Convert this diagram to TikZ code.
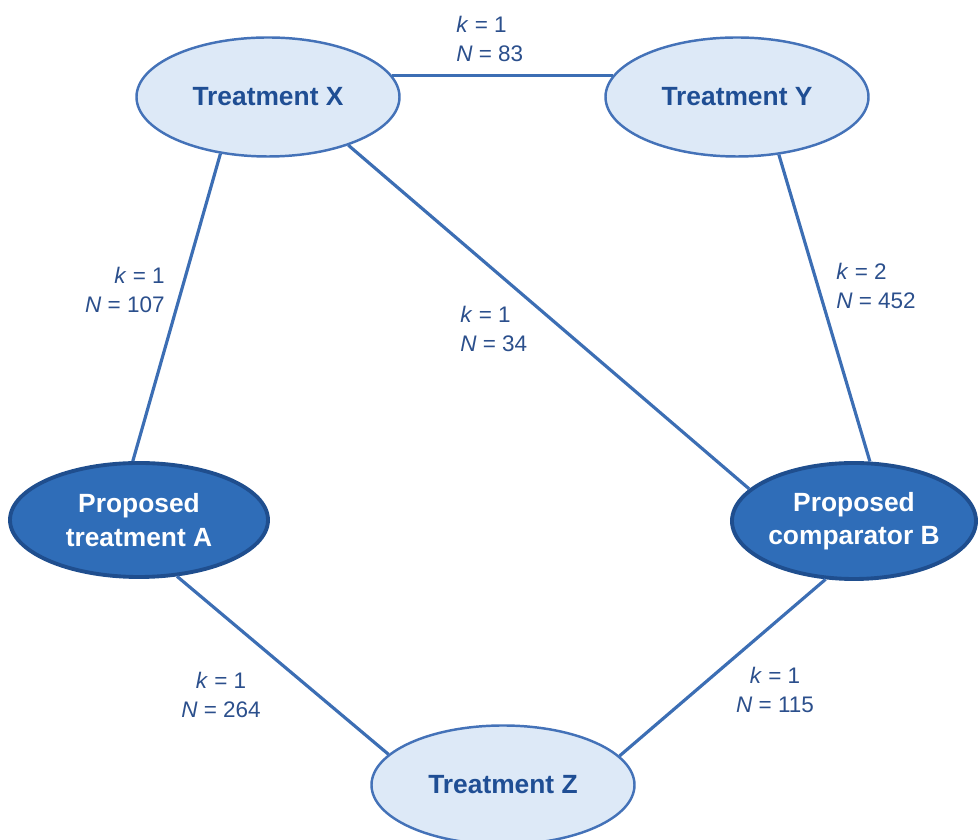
\documentclass[tikz,border=0pt]{standalone}
\usepackage{fontspec}
\setmainfont{Liberation Sans}
\usepackage{tikz}
\usetikzlibrary{shapes.geometric}
\definecolor{edgeblue}{HTML}{3C6EB4}
\definecolor{lightfill}{HTML}{DDE9F7}
\definecolor{lightline}{HTML}{4472B8}
\definecolor{darkfill}{HTML}{2F6DB8}
\definecolor{darkline}{HTML}{1F4E8E}
\definecolor{textblue}{HTML}{1F4E94}
\definecolor{labelblue}{HTML}{2B4F8C}
\tikzset{
  trt/.style={ellipse,draw=lightline,line width=1.4pt,fill=lightfill,text=textblue,
    inner sep=0pt,minimum width=5.26cm,minimum height=2.38cm,align=center,
    font=\bfseries\fontsize{15}{19}\selectfont},
  prop/.style={trt,draw=darkline,line width=2.2pt,fill=darkfill,text=white},
  link/.style={draw=edgeblue,line width=1.8pt},
  lbl/.style={text=labelblue,inner sep=0pt,font=\fontsize{12.8}{16.5}\selectfont}
}

\begin{document}
\begin{tikzpicture}
  \useasboundingbox (0,0) rectangle (19.56,16.8);
  \node[trt] (X) at (5.36,14.86) {Treatment X};
  \node[trt] (Y) at (14.74,14.86) {Treatment Y};
  \node[prop,minimum width=5.16cm,minimum height=2.28cm] (A) at (2.78,6.40) {Proposed\\treatment A};
  \node[prop,minimum width=4.88cm,minimum height=2.32cm] (B) at (17.08,6.38) {Proposed\\comparator B};
  \node[trt] (Z) at (10.06,1.10) {Treatment Z};
  \draw[link] (X.10) -- (Y.170);
  \draw[link] (X.230) -- (A.96);
  \draw[link] (X.329) -- (B.163);
  \draw[link] (Y.306.6) -- (B.75);
  \draw[link] (A.304) -- (Z.165.4);
  \draw[link] (B.244) -- (Z.14.4);
  \node[lbl,anchor=west,align=left] (lXY) at (9.12,16.02) {\textit{k} = 1\\\textit{N} = 83};
  \node[lbl,anchor=east,align=right] (lXA) at (3.3,11.0) {\textit{k} = 1\\\textit{N} = 107};
  \node[lbl,anchor=west,align=left] (lXB) at (9.2,10.22) {\textit{k} = 1\\\textit{N} = 34};
  \node[lbl,anchor=west,align=left] (lYB) at (16.72,11.08) {\textit{k} = 2\\\textit{N} = 452};
  \node[lbl,align=center] (lAZ) at (4.42,2.9) {\textit{k} = 1\\\textit{N} = 264};
  \node[lbl,align=center] (lBZ) at (15.5,3.0) {\textit{k} = 1\\\textit{N} = 115};
\end{tikzpicture}
\end{document}
